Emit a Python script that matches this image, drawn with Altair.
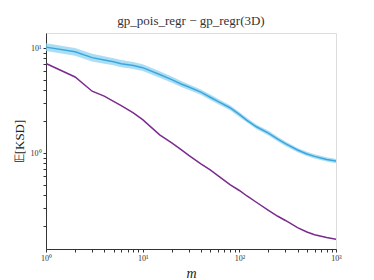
import altair as alt
import pandas as pd

m_vals = [1, 2, 3, 4, 5, 6, 8, 10, 15, 20, 25, 30, 40, 50, 60, 80, 100, 120, 150,
          200, 250, 300, 400, 500, 600, 800, 1000]
blue_mean = [10.2, 9.2, 8.1, 7.7, 7.4, 7.1, 6.8, 6.5, 5.6, 5.0, 4.55, 4.25, 3.8, 3.4,
             3.1, 2.7, 2.33, 2.05, 1.78, 1.55, 1.36, 1.23, 1.07, 0.98, 0.93, 0.87, 0.84]
blue_hi = [11.1, 10.0, 8.8, 8.35, 8.0, 7.7, 7.35, 7.0, 6.0, 5.35, 4.85, 4.52, 4.03, 3.6,
           3.28, 2.85, 2.46, 2.16, 1.87, 1.63, 1.43, 1.29, 1.12, 1.03, 0.975, 0.91, 0.88]
blue_lo = [9.35, 8.45, 7.45, 7.1, 6.85, 6.55, 6.3, 6.05, 5.2, 4.67, 4.26, 3.99, 3.58, 3.2,
           2.93, 2.56, 2.21, 1.95, 1.69, 1.47, 1.29, 1.17, 1.02, 0.935, 0.885, 0.83, 0.80]
purple_vals = [7.13, 5.3, 3.88, 3.48, 3.11, 2.83, 2.41, 2.08, 1.49, 1.25, 1.08, 0.95, 0.79,
               0.69, 0.61, 0.5, 0.44, 0.39, 0.34, 0.285, 0.25, 0.228, 0.195, 0.177, 0.167,
               0.157, 0.151]

x_ticks = [1, 2, 3, 4, 5, 6, 7, 8, 9, 10, 20, 30, 40, 50, 60, 70, 80, 90, 100,
           200, 300, 400, 500, 600, 700, 800, 900, 1000]
y_ticks = [0.2, 0.3, 0.4, 0.5, 0.6, 0.7, 0.8, 0.9, 1, 2, 3, 4, 5, 6, 7, 8, 9, 10]

df = pd.DataFrame({"m": m_vals, "mean": blue_mean, "lo": blue_lo, "hi": blue_hi,
                   "purple": purple_vals})

FONT = "Liberation Serif"

xlab = ("datum.value == 1 ? '10⁰' : datum.value == 10 ? '10¹' : "
        "datum.value == 100 ? '10²' : datum.value == 1000 ? '10³' : ''")
ylab = "datum.value == 1 ? '10⁰' : datum.value == 10 ? '10¹' : ''"

xscale = alt.Scale(type="log", domain=[1, 1000], nice=False)
yscale = alt.Scale(type="log", domain=[0.122, 13.9], nice=False, zero=False)

xaxis = alt.Axis(values=x_ticks, labelExpr=xlab, title="m", titleFont=FONT,
                 titleFontStyle="italic", titleFontWeight="normal", titleFontSize=14,
                 titleColor="#222", titlePadding=4, labelFont=FONT, labelFontSize=8,
                 labelColor="#333", tickSize=3, tickColor="#333", domainColor="#333",
                 grid=False, labelPadding=2, labelFlush=False, labelOverlap=False)
yaxis = alt.Axis(values=y_ticks, labelExpr=ylab, title="𝔼[KSD]", titleFont=FONT,
                 titleFontWeight="normal", titleFontSize=13, titleColor="#222",
                 titlePadding=4, labelFont=FONT, labelFontSize=8, labelColor="#333",
                 tickSize=3, tickColor="#333", domainColor="#333", grid=False,
                 labelPadding=2, labelOverlap=False)

base = alt.Chart(df)
band = base.mark_area(color="#8fd3f2", opacity=0.75).encode(
    x=alt.X("m:Q", scale=xscale, axis=xaxis),
    y=alt.Y("lo:Q", scale=yscale, axis=yaxis),
    y2="hi:Q",
)
blue = base.mark_line(color="#3aa6de", strokeWidth=1.5).encode(
    x=alt.X("m:Q", scale=xscale), y=alt.Y("mean:Q", scale=yscale))
purple = base.mark_line(color="#7a2b8e", strokeWidth=1.5).encode(
    x=alt.X("m:Q", scale=xscale), y=alt.Y("purple:Q", scale=yscale))

chart = alt.layer(band, blue, purple).properties(
    width=290, height=216,
    title=alt.TitleParams("gp_pois_regr − gp_regr(3D)", font=FONT, fontSize=13,
                          fontWeight="normal", color="#333", offset=5),
    autosize=alt.AutoSizeParams(type="none"),
    padding={"left": 38, "top": 25, "right": 28, "bottom": 30},
).configure_view(stroke="#333", strokeWidth=1.2).configure(background="white")

chart.save("out.html", embed_options={"renderer": "svg", "actions": False})
